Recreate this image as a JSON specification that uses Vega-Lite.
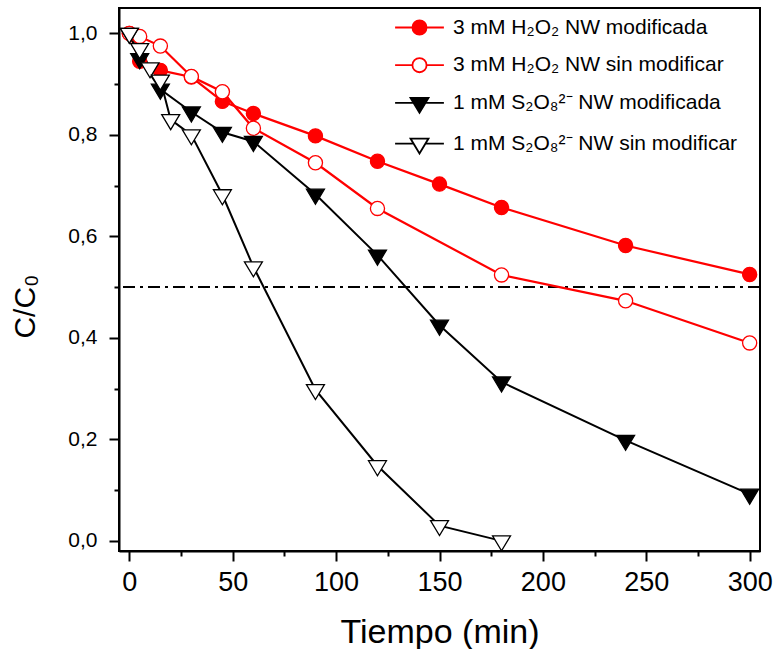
{
  "$schema": "https://vega.github.io/schema/vega-lite/v6.json",
  "autosize": "none",
  "width": 641,
  "height": 543,
  "padding": {"left": 119, "top": 8, "right": 13, "bottom": 98},
  "background": "white",
  "config": {
    "font": "Liberation Sans",
    "view": {"stroke": "#000000", "strokeWidth": 2},
    "axis": {
      "grid": false,
      "domainColor": "#000000",
      "domainWidth": 2,
      "tickColor": "#000000",
      "tickWidth": 2,
      "labelColor": "#000000",
      "titleColor": "#000000",
      "labelFont": "Liberation Sans",
      "titleFont": "Liberation Sans",
      "titleFontWeight": "normal"
    },
    "legend": {
      "orient": "none",
      "legendX": 290,
      "legendY": 9,
      "padding": 0,
      "labelFont": "Liberation Sans",
      "labelFontSize": 21,
      "labelColor": "#000000",
      "labelLimit": 400,
      "labelOffset": 23,
      "rowPadding": 14.7,
      "symbolSize": 200,
      "symbolStrokeWidth": 1.8
    }
  },
  "datasets": {
    "curves": [
      {"t": 0, "c": 1.0, "series": "3 mM H₂O₂ NW modificada"},
      {"t": 5, "c": 0.945, "series": "3 mM H₂O₂ NW modificada"},
      {"t": 15, "c": 0.927, "series": "3 mM H₂O₂ NW modificada"},
      {"t": 30, "c": 0.914, "series": "3 mM H₂O₂ NW modificada"},
      {"t": 45, "c": 0.866, "series": "3 mM H₂O₂ NW modificada"},
      {"t": 60, "c": 0.842, "series": "3 mM H₂O₂ NW modificada"},
      {"t": 90, "c": 0.798, "series": "3 mM H₂O₂ NW modificada"},
      {"t": 120, "c": 0.748, "series": "3 mM H₂O₂ NW modificada"},
      {"t": 150, "c": 0.703, "series": "3 mM H₂O₂ NW modificada"},
      {"t": 180, "c": 0.657, "series": "3 mM H₂O₂ NW modificada"},
      {"t": 240, "c": 0.582, "series": "3 mM H₂O₂ NW modificada"},
      {"t": 300, "c": 0.525, "series": "3 mM H₂O₂ NW modificada"},
      {"t": 0, "c": 1.0, "series": "3 mM H₂O₂ NW sin modificar"},
      {"t": 5, "c": 0.994, "series": "3 mM H₂O₂ NW sin modificar"},
      {"t": 15, "c": 0.975, "series": "3 mM H₂O₂ NW sin modificar"},
      {"t": 30, "c": 0.915, "series": "3 mM H₂O₂ NW sin modificar"},
      {"t": 45, "c": 0.885, "series": "3 mM H₂O₂ NW sin modificar"},
      {"t": 60, "c": 0.813, "series": "3 mM H₂O₂ NW sin modificar"},
      {"t": 90, "c": 0.745, "series": "3 mM H₂O₂ NW sin modificar"},
      {"t": 120, "c": 0.655, "series": "3 mM H₂O₂ NW sin modificar"},
      {"t": 180, "c": 0.524, "series": "3 mM H₂O₂ NW sin modificar"},
      {"t": 240, "c": 0.473, "series": "3 mM H₂O₂ NW sin modificar"},
      {"t": 300, "c": 0.39, "series": "3 mM H₂O₂ NW sin modificar"},
      {"t": 0, "c": 1.0, "series": "1 mM S₂O₈²⁻ NW modificada"},
      {"t": 5, "c": 0.95, "series": "1 mM S₂O₈²⁻ NW modificada"},
      {"t": 15, "c": 0.89, "series": "1 mM S₂O₈²⁻ NW modificada"},
      {"t": 30, "c": 0.845, "series": "1 mM S₂O₈²⁻ NW modificada"},
      {"t": 45, "c": 0.805, "series": "1 mM S₂O₈²⁻ NW modificada"},
      {"t": 60, "c": 0.787, "series": "1 mM S₂O₈²⁻ NW modificada"},
      {"t": 90, "c": 0.683, "series": "1 mM S₂O₈²⁻ NW modificada"},
      {"t": 120, "c": 0.563, "series": "1 mM S₂O₈²⁻ NW modificada"},
      {"t": 150, "c": 0.425, "series": "1 mM S₂O₈²⁻ NW modificada"},
      {"t": 180, "c": 0.313, "series": "1 mM S₂O₈²⁻ NW modificada"},
      {"t": 240, "c": 0.198, "series": "1 mM S₂O₈²⁻ NW modificada"},
      {"t": 300, "c": 0.092, "series": "1 mM S₂O₈²⁻ NW modificada"},
      {"t": 0, "c": 1.0, "series": "1 mM S₂O₈²⁻ NW sin modificar"},
      {"t": 5, "c": 0.97, "series": "1 mM S₂O₈²⁻ NW sin modificar"},
      {"t": 10, "c": 0.932, "series": "1 mM S₂O₈²⁻ NW sin modificar"},
      {"t": 15, "c": 0.908, "series": "1 mM S₂O₈²⁻ NW sin modificar"},
      {"t": 20, "c": 0.83, "series": "1 mM S₂O₈²⁻ NW sin modificar"},
      {"t": 30, "c": 0.8, "series": "1 mM S₂O₈²⁻ NW sin modificar"},
      {"t": 45, "c": 0.682, "series": "1 mM S₂O₈²⁻ NW sin modificar"},
      {"t": 60, "c": 0.54, "series": "1 mM S₂O₈²⁻ NW sin modificar"},
      {"t": 90, "c": 0.298, "series": "1 mM S₂O₈²⁻ NW sin modificar"},
      {"t": 120, "c": 0.148, "series": "1 mM S₂O₈²⁻ NW sin modificar"},
      {"t": 150, "c": 0.03, "series": "1 mM S₂O₈²⁻ NW sin modificar"},
      {"t": 180, "c": 0.0, "series": "1 mM S₂O₈²⁻ NW sin modificar"}
    ],
    "threshold": [{"level": 0.5}]
  },
  "layer": [
    {
      "data": {"name": "threshold"},
      "mark": {"type": "rule", "color": "#000000", "strokeWidth": 2, "strokeDash": [12, 5, 3, 5]},
      "encoding": {
        "y": {"field": "level", "type": "quantitative", "scale": {"domain": [-0.02, 1.05], "nice": false, "zero": false}}
      }
    },
    {
      "data": {"name": "curves"},
      "transform": [{"filter": {"field": "series", "oneOf": ["3 mM H₂O₂ NW modificada", "3 mM H₂O₂ NW sin modificar"]}}],
      "mark": {"type": "line", "strokeWidth": 2.2, "color": "#ff0000"},
      "encoding": {
        "x": {
          "field": "t", "type": "quantitative",
          "scale": {"domain": [-5, 305], "nice": false, "zero": false},
          "axis": {
            "title": "Tiempo (min)",
            "values": [0, 25, 50, 75, 100, 125, 150, 175, 200, 225, 250, 275, 300],
            "labelExpr": "datum.value % 50 === 0 ? datum.label : ''",
            "tickSize": {"condition": {"test": "datum.value % 50 === 0", "value": 10}, "value": 5},
            "labelFontSize": 27,
            "labelPadding": 8,
            "titleFontSize": 34,
            "titlePadding": 20
          }
        },
        "y": {
          "field": "c", "type": "quantitative",
          "scale": {"domain": [-0.02, 1.05], "nice": false, "zero": false},
          "axis": {
            "title": "C/C₀",
            "values": [0, 0.1, 0.2, 0.3, 0.4, 0.5, 0.6, 0.7, 0.8, 0.9, 1.0],
            "labelExpr": "round(datum.value * 10) % 2 === 0 ? replace(format(datum.value, '.1f'), '.', ',') : ''",
            "tickSize": {"condition": {"test": "round(datum.value * 10) % 2 === 0", "value": 10}, "value": 5},
            "labelFontSize": 21,
            "labelPadding": 12,
            "titleFontSize": 30,
            "titlePadding": 27,
            "titleY": 298
          }
        },
        "detail": {"field": "series", "type": "nominal"}
      }
    },
    {
      "data": {"name": "curves"},
      "transform": [{"filter": {"field": "series", "oneOf": ["1 mM S₂O₈²⁻ NW modificada", "1 mM S₂O₈²⁻ NW sin modificar"]}}],
      "mark": {"type": "line", "strokeWidth": 2, "color": "#000000"},
      "encoding": {
        "x": {"field": "t", "type": "quantitative"},
        "y": {"field": "c", "type": "quantitative"},
        "detail": {"field": "series", "type": "nominal"}
      }
    },
    {
      "data": {"name": "curves"},
      "transform": [{"filter": "false"}],
      "mark": {"type": "point", "filled": false, "size": 200, "strokeWidth": 1.8, "opacity": 1},
      "encoding": {
        "x": {"field": "t", "type": "quantitative"},
        "y": {"field": "c", "type": "quantitative"},
        "color": {
          "field": "series", "type": "nominal", "title": null,
          "scale": {
            "domain": ["3 mM H₂O₂ NW modificada", "3 mM H₂O₂ NW sin modificar", "1 mM S₂O₈²⁻ NW modificada", "1 mM S₂O₈²⁻ NW sin modificar"],
            "range": ["#ff0000", "#ff0000", "#000000", "#000000"]
          }
        },
        "fill": {
          "field": "series", "type": "nominal", "title": null,
          "scale": {
            "domain": ["3 mM H₂O₂ NW modificada", "3 mM H₂O₂ NW sin modificar", "1 mM S₂O₈²⁻ NW modificada", "1 mM S₂O₈²⁻ NW sin modificar"],
            "range": ["#ff0000", "#ffffff", "#000000", "#ffffff"]
          }
        },
        "shape": {
          "field": "series", "type": "nominal", "title": null,
          "scale": {
            "domain": ["3 mM H₂O₂ NW modificada", "3 mM H₂O₂ NW sin modificar", "1 mM S₂O₈²⁻ NW modificada", "1 mM S₂O₈²⁻ NW sin modificar"],
            "range": [
              "M-3.45,0H-1M1,0H3.45M1,0A1,1 0 1,1 -1,0A1,1 0 1,1 1,0Z",
              "M-3.45,0H-1M1,0H3.45M1,0A1,1 0 1,1 -1,0A1,1 0 1,1 1,0Z",
              "M-3.45,0H-0.85M0.85,0H3.45M-1.27,-0.71L1.27,-0.71L0,1.41Z",
              "M-3.45,0H-0.85M0.85,0H3.45M-1.27,-0.71L1.27,-0.71L0,1.41Z"
            ]
          }
        }
      }
    },
    {
      "data": {"name": "curves"},
      "transform": [{"filter": {"field": "series", "oneOf": ["3 mM H₂O₂ NW modificada", "3 mM H₂O₂ NW sin modificar"]}}],
      "mark": {"type": "point", "filled": false, "size": 200, "strokeWidth": 1.3, "opacity": 1, "shape": "M1,0A1,1 0 1,1 -1,0A1,1 0 1,1 1,0Z"},
      "encoding": {
        "x": {"field": "t", "type": "quantitative"},
        "y": {"field": "c", "type": "quantitative"},
        "color": {"field": "series", "type": "nominal", "title": null},
        "fill": {"field": "series", "type": "nominal", "title": null}
      }
    },
    {
      "data": {"name": "curves"},
      "transform": [{"filter": {"field": "series", "oneOf": ["1 mM S₂O₈²⁻ NW modificada", "1 mM S₂O₈²⁻ NW sin modificar"]}}],
      "mark": {"type": "point", "filled": false, "size": 200, "strokeWidth": 1.3, "opacity": 1, "shape": "M-1.27,-0.71L1.27,-0.71L0,1.41Z"},
      "encoding": {
        "x": {"field": "t", "type": "quantitative"},
        "y": {"field": "c", "type": "quantitative"},
        "color": {"field": "series", "type": "nominal", "title": null},
        "fill": {"field": "series", "type": "nominal", "title": null}
      }
    }
  ]
}
